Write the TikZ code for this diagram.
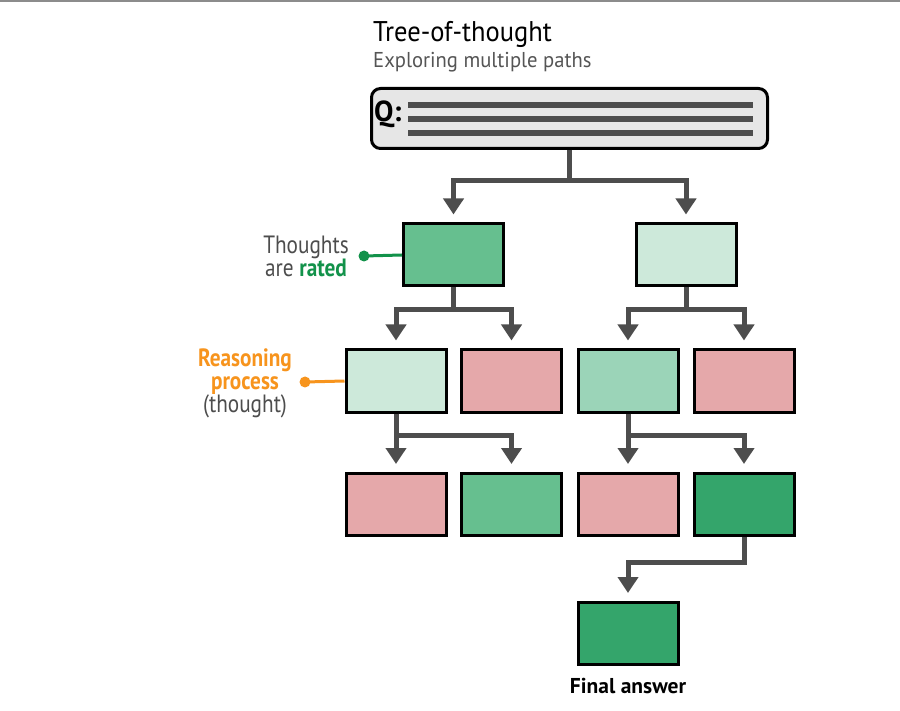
\documentclass[tikz,border=0pt]{standalone}
\usepackage{fontspec}
\setmainfont{PT Sans}[FakeStretch=0.85]
\newfontfamily\titlefont{PT Sans}[FakeStretch=0.93]
\newfontfamily\subfont{PT Sans}[FakeStretch=0.96]
\newfontfamily\widefont{PT Sans}
\usetikzlibrary{arrows.meta}
\definecolor{conncol}{HTML}{4D4D4D}
\definecolor{gmed}{HTML}{66BF8F}
\definecolor{glight}{HTML}{CDE9DA}
\definecolor{gmid}{HTML}{9BD4B8}
\definecolor{gdark}{HTML}{34A56B}
\definecolor{pinkc}{HTML}{E5A8AA}
\definecolor{qfill}{HTML}{E6E6E6}
\definecolor{labgreen}{HTML}{12924A}
\definecolor{laborange}{HTML}{F7941D}
\definecolor{subgray}{HTML}{555555}
\definecolor{labgray}{HTML}{4D4D4D}
\tikzset{
  tbox/.style={draw=black, line width=3pt, minimum width=100pt, minimum height=62pt, inner sep=0pt},
  conn/.style={draw=conncol, line width=5pt, line join=miter, -{Triangle[width=20pt,length=16pt]}, shorten >=8pt},
  lab/.style={font=\fontsize{25}{25}\selectfont, align=center, text=labgray, inner sep=0pt},
}
\begin{document}
\begin{tikzpicture}[x=1pt,y=-1pt]
\useasboundingbox (0,0) rectangle (900,711);
\fill[white] (0,0) rectangle (900,711);
\draw[gray!90, line width=2pt] (0,1) -- (900,1);
% titles
\node[anchor=base west, inner sep=0pt, font=\titlefont\fontsize{28.5}{28.5}\selectfont] (title) at (373,42) {Tree-of-thought};
\node[anchor=base west, inner sep=0pt, text=subgray, font=\subfont\fontsize{21.5}{21.5}\selectfont] (sub) at (373,68) {Exploring multiple paths};
% question box
\node[draw=black, line width=3pt, fill=qfill, rounded corners=9pt, minimum width=396pt, minimum height=60pt, inner sep=0pt] (q) at (569.5,118.5) {};
\node[anchor=base west, inner sep=0pt, font=\widefont\bfseries\fontsize{29}{29}\selectfont] (ql) at (374,122) {Q:};
\coordinate (l1a) at (408,105); \coordinate (l1b) at (753,105);
\coordinate (l2a) at (408,119); \coordinate (l2b) at (753,119);
\coordinate (l3a) at (408,133); \coordinate (l3b) at (753,133);
\draw[conncol, line width=6pt] (l1a) -- (l1b);
\draw[conncol, line width=6pt] (l2a) -- (l2b);
\draw[conncol, line width=6pt] (l3a) -- (l3b);
% row 1
\node[tbox, fill=gmed] (a1) at (453.5,255) {};
\node[tbox, fill=glight] (a2) at (686,255) {};
% row 2
\node[tbox, fill=glight] (b1) at (396,381) {};
\node[tbox, fill=pinkc] (b2) at (511.5,381) {};
\node[tbox, fill=gmid] (b3) at (628,381) {};
\node[tbox, fill=pinkc] (b4) at (744,381) {};
% row 3
\node[tbox, fill=pinkc] (c1) at (396,504.5) {};
\node[tbox, fill=gmed] (c2) at (511.5,504.5) {};
\node[tbox, fill=pinkc] (c3) at (628,504.5) {};
\node[tbox, fill=gdark] (c4) at (744,504.5) {};
% final
\node[tbox, fill=gdark] (f) at (628,633.5) {};
\node[anchor=base, inner sep=0pt, font=\widefont\bfseries\fontsize{21.5}{21.5}\selectfont] (flab) at (628,693) {Final answer};
% connectors
\draw[conn] (q.south) -- ++(0,31) -| (a1.north);
\draw[conn] (q.south) -- ++(0,31) -| (a2.north);
\draw[conn] (a1.south) -- ++(0,22) -| (b1.north);
\draw[conn] (a1.south) -- ++(0,22) -| (b2.north);
\draw[conn] (a2.south) -- ++(0,22) -| (b3.north);
\draw[conn] (a2.south) -- ++(0,22) -| (b4.north);
\draw[conn] (b1.south) -- ++(0,22) -| (c1.north);
\draw[conn] (b1.south) -- ++(0,22) -| (c2.north);
\draw[conn] (b3.south) -- ++(0,22) -| (c3.north);
\draw[conn] (b3.south) -- ++(0,22) -| (c4.north);
\draw[conn] (c4.south) -- ++(0,25) -| (f.north);
% labels
\node[lab] (thoughts) at (306,256) {Thoughts\\[-2pt]are \textbf{\textcolor{labgreen}{rated}}};
\coordinate (gdot) at (364,256);
\fill[labgreen] (gdot) circle (5.5pt);
\draw[labgreen, line width=3pt] (gdot) -- (a1.west);
\node[lab] (reason) at (245,383) {\textbf{\textcolor{laborange}{Reasoning}}\\[-2pt]\textbf{\textcolor{laborange}{process}}\\[-2pt](thought)};
\coordinate (odot) at (305,382);
\fill[laborange] (odot) circle (5.5pt);
\draw[laborange, line width=3pt] (odot) -- (b1.west);
\end{tikzpicture}
\end{document}
